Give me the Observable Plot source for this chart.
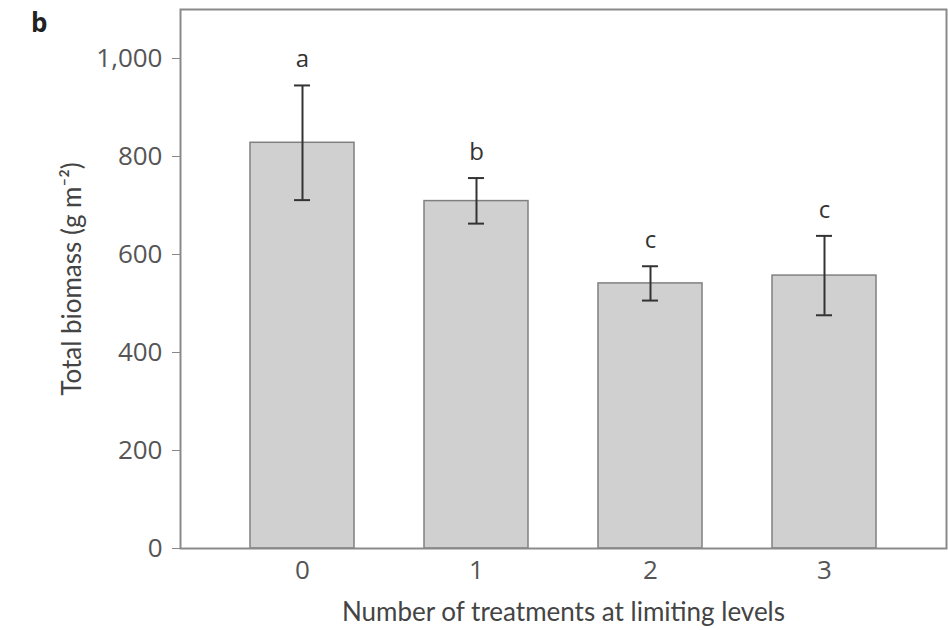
<!DOCTYPE html>
<html>
<head>
<meta charset="utf-8">
<script src="https://cdn.jsdelivr.net/npm/d3@7"></script>
<script src="https://cdn.jsdelivr.net/npm/@observablehq/plot@0.6"></script>
<style>
  html, body { margin: 0; padding: 0; background: #fff; }
  #wrap { position: relative; width: 948px; height: 630px; }
  #panel { position: absolute; left: 31px; top: 4px; font: bold 26px "Open Sans", sans-serif; color: #222; }
</style>
</head>
<body>
<div id="wrap"><div id="panel">b</div><div id="chart"></div></div>
<script>
const categories = ["0", "1", "2", "3"];
const means = [828, 709, 541, 557];
const upper = [945, 756, 576, 638];
const lower = [711, 663, 506, 476];
const letters = ["a", "b", "c", "c"];
const yTicks = [0, 200, 400, 600, 800, 1000];

const data = categories.map((c, i) => ({cat: c, mean: means[i], hi: upper[i], lo: lower[i], letter: letters[i]}));

const chart = Plot.plot({
  width: 948,
  height: 630,
  marginLeft: 180,
  marginRight: 2,
  marginTop: 9,
  marginBottom: 82,
  style: {fontFamily: "'Open Sans', sans-serif", color: "#555", background: "#fff"},
  x: {domain: categories, padding: 0.4, align: 0.5},
  y: {domain: [0, 1100]},
  marks: [
    Plot.barY(data, {x: "cat", y: "mean", fill: "#d0d0d0", stroke: "#808080", strokeWidth: 1.5}),
    Plot.ruleX(data, {x: "cat", y1: "lo", y2: "hi", stroke: "#333", strokeWidth: 2}),
    Plot.tickY(data, {x: "cat", y: "hi", stroke: "#333", strokeWidth: 2, insetLeft: 44, insetRight: 44}),
    Plot.tickY(data, {x: "cat", y: "lo", stroke: "#333", strokeWidth: 2, insetLeft: 44, insetRight: 44}),
    Plot.text(data, {x: "cat", y: "hi", text: "letter", dy: -26, fontSize: 24, fill: "#333", lineAnchor: "middle"}),
    Plot.frame({stroke: "#8a8a8a", strokeWidth: 2}),
    Plot.axisY({ticks: yTicks, tickFormat: d3.format(","), tickSize: 8, tickPadding: 10, fontSize: 26, stroke: "#888",
      label: "Total biomass (g m⁻²)", labelAnchor: "center", labelArrow: "none", labelOffset: 118}),
    Plot.axisX({tickSize: 0, tickPadding: 12, fontSize: 26,
      label: "Number of treatments at limiting levels", labelAnchor: "center", labelArrow: "none", labelOffset: 72})
  ]
});
chart.querySelectorAll("[aria-label='y-axis label'] text, [aria-label='x-axis label'] text").forEach(t => {
  t.setAttribute("font-size", "26");
  t.style.fontFamily = "Lato, sans-serif";
  t.setAttribute("fill", "#444");
});
document.getElementById("chart").appendChild(chart);
</script>
</body>
</html>
